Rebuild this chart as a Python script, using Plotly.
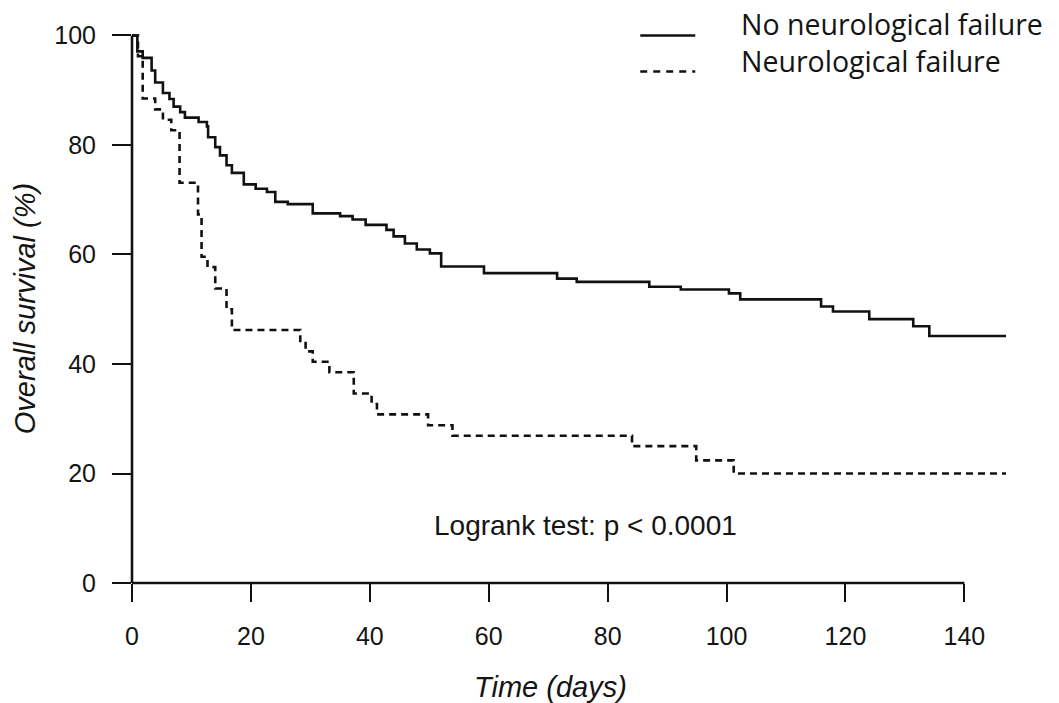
import plotly.graph_objects as go

# ---- data ----
no_nf_time = [0, 0.9, 1.8, 3.3, 3.9, 5.2, 6.3, 7.0, 8.1, 8.9, 11.2, 12.6, 12.8, 14.0, 14.8,
              15.9, 16.8, 18.8, 20.8, 22.7, 24.1, 26.2, 30.4, 35.0, 37.1, 39.3, 42.8, 44.0,
              45.9, 47.9, 50.1, 52.0, 59.2, 71.5, 74.8, 87.0, 92.3, 100.4, 102.3, 115.9,
              117.9, 124.0, 131.4, 134.1, 147.0]
no_nf_surv = [100, 97.1, 95.9, 93.6, 91.4, 89.5, 88.4, 87.0, 86.0, 85.0, 84.2, 83.4, 81.4, 79.6, 78.1,
              76.3, 74.9, 72.8, 72.0, 71.4, 69.6, 69.2, 67.5, 67.0, 66.4, 65.4, 64.5, 63.3,
              62.0, 60.9, 60.2, 57.8, 56.6, 55.6, 55.0, 54.1, 53.6, 52.9, 51.8, 50.5,
              49.6, 48.2, 46.9, 45.1, 45.1]

nf_time = [0, 1.0, 1.8, 3.9, 5.2, 6.6, 8.0, 11.1, 11.7, 12.7, 14.0, 15.9, 16.8, 28.3, 29.2,
           30.4, 33.2, 37.3, 40.3, 41.2, 49.8, 53.9, 84.1, 94.9, 101.2, 147.0]
nf_surv = [100, 96.2, 88.5, 86.5, 84.6, 82.7, 73.1, 67.3, 59.6, 57.7, 53.8, 50.0, 46.2, 44.2, 42.3,
           40.4, 38.5, 34.6, 32.7, 30.8, 28.8, 26.9, 25.0, 22.4, 20.0, 20.0]

series_names = ["No neurological failure", "Neurological failure"]
x_ticks = [0, 20, 40, 60, 80, 100, 120, 140]
y_ticks = [0, 20, 40, 60, 80, 100]

# ---- layout geometry ----
W, H = 1059, 703
L, R, T, B = 132, 53.4, 29.5, 120
X_MAX, Y_MAX = 147, 101
PW = W - L - R
PH = H - T - B


def px_x(px):
    return (px - L) / PW


def px_y(py):
    return (H - B - py) / PH


INK = "#111111"
TXT = "#141414"
AXFONT = "Liberation Sans, Arial, sans-serif"

fig = go.Figure()
fig.add_trace(go.Scatter(x=no_nf_time, y=no_nf_surv, mode="lines", name=series_names[0],
                         line=dict(color=INK, width=2.6, shape="hv")))
fig.add_trace(go.Scatter(x=nf_time, y=nf_surv, mode="lines", name=series_names[1],
                         line=dict(color=INK, width=2.6, shape="hv", dash="7px,5px")))

shapes = [
    # axis lines
    dict(type="line", xref="paper", yref="paper", x0=0, x1=140 / X_MAX, y0=0, y1=0,
         line=dict(color=INK, width=2.6)),
    dict(type="line", xref="paper", yref="paper", x0=0, x1=0, y0=0, y1=100 / Y_MAX,
         line=dict(color=INK, width=2.6)),
    # legend samples
    dict(type="line", xref="paper", yref="paper", x0=px_x(640), x1=px_x(695),
         y0=px_y(35), y1=px_y(35), line=dict(color=INK, width=2.4)),
    dict(type="line", xref="paper", yref="paper", x0=px_x(640), x1=px_x(695),
         y0=px_y(71), y1=px_y(71), line=dict(color=INK, width=2.4, dash="7px,6px")),
]

LEGFONT = dict(family="Open Sans, Lato, sans-serif", size=28.5, color=TXT)
annotations = [
    dict(text=series_names[0] + "<br>" + series_names[1], xref="paper", yref="paper",
         x=px_x(739), y=px_y(42), xanchor="left", yanchor="middle", align="left",
         showarrow=False, font=LEGFONT),
    dict(text="Logrank test: p < 0.0001", xref="paper", yref="paper", x=px_x(585), y=px_y(525),
         xanchor="center", yanchor="middle", showarrow=False,
         font=dict(family=AXFONT, size=28, color=TXT)),
    dict(text="<i>Time (days)</i>", xref="paper", yref="paper", x=px_x(550), y=px_y(687),
         xanchor="center", yanchor="middle", showarrow=False,
         font=dict(family=AXFONT, size=29, color=TXT)),
    dict(text="<i>Overall survival (%)</i>", xref="paper", yref="paper", x=px_x(25), y=px_y(308),
         xanchor="center", yanchor="middle", showarrow=False, textangle=-90,
         font=dict(family=AXFONT, size=29, color=TXT)),
]

fig.update_layout(
    width=W, height=H,
    margin=dict(l=L, r=R, t=T, b=B, pad=0),
    paper_bgcolor="white", plot_bgcolor="white",
    showlegend=False,
    shapes=shapes,
    annotations=annotations,
    xaxis=dict(range=[0, X_MAX], tickvals=x_ticks, ticks="outside", ticklen=18, tickwidth=2.4,
               tickcolor=INK, showgrid=False, zeroline=False, showline=False,
               tickfont=dict(family=AXFONT, size=25, color=TXT), ticklabelstandoff=13),
    yaxis=dict(range=[0, Y_MAX], tickvals=y_ticks, ticks="outside", ticklen=19, tickwidth=2.4,
               tickcolor=INK, showgrid=False, zeroline=False, showline=False,
               tickfont=dict(family=AXFONT, size=25, color=TXT), ticklabelstandoff=11),
)

fig.write_html("out.html")
